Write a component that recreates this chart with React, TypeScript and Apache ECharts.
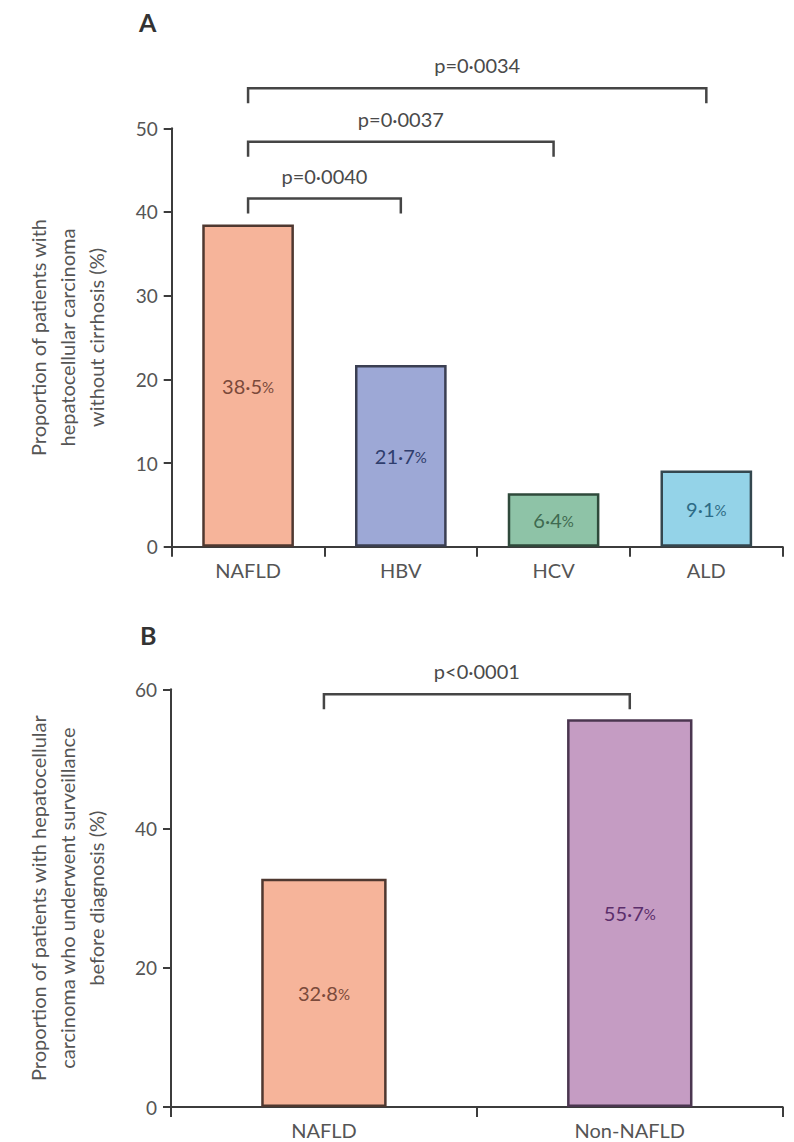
import React, { useEffect, useRef } from "react";
import * as echarts from "echarts";

// ---- Panel A data ----
const categoriesA = ["NAFLD", "HBV", "HCV", "ALD"];
const valuesA = [38.5, 21.7, 6.4, 9.1];
const yTicksA = { min: 0, max: 50, interval: 10 };
const bracketFromA = [0, 0, 0];
const bracketToA = [1, 2, 3];
const bracketLevelA = [41.6, 48.4, 54.8];
const pLabelsA = ["p=0·0040", "p=0·0037", "p=0·0034"];

// ---- Panel B data ----
const categoriesB = ["NAFLD", "Non-NAFLD"];
const valuesB = [32.8, 55.7];
const yTicksB = { min: 0, max: 60, interval: 20 };
const bracketFromB = [0];
const bracketToB = [1];
const bracketLevelB = [59.3];
const pLabelsB = ["p<0·0001"];

// ---- Styles ----
const FONT = "Lato, 'Open Sans', sans-serif";
const fillsA = ["#F6B49A", "#9DA8D6", "#8EC3A7", "#94D3E8"];
const bordersA = ["#4f3830", "#3b3f52", "#2f4a3b", "#34474f"];
const labelColorsA = ["#7b4a3b", "#2f3d6d", "#3f6a50", "#2d6b86"];
const fillsB = ["#F6B49A", "#C59CC3"];
const bordersB = ["#4f3830", "#4b3650"];
const labelColorsB = ["#7b4a3b", "#5b2e6b"];
const AXIS = "#3c3c3c";
const TEXT = "#555555";

const fmt = (v: number) => v.toFixed(1).replace(".", "·");

function barSeries(values: number[], fills: string[], borders: string[], lblColors: string[], idx: number, width: string) {
  return {
    type: "bar",
    xAxisIndex: idx,
    yAxisIndex: idx,
    barWidth: width,
    data: values.map((v, i) => ({
      value: v,
      itemStyle: { color: fills[i], borderColor: borders[i], borderWidth: 2.5 },
      label: {
        color: lblColors[i],
        rich: {
          n: { fontSize: 20, color: lblColors[i], fontFamily: FONT },
          p: { fontSize: 15, color: lblColors[i], fontFamily: FONT, padding: [2, 0, 0, 0] },
        },
      },
    })),
    label: {
      show: true,
      position: "inside",
      fontFamily: FONT,
      formatter: (p: any) => `{n|${fmt(p.value)}}{p|%}`,
    },
  };
}

function bracketSeries(from: number[], to: number[], level: number[], labels: string[], idx: number) {
  return {
    type: "custom",
    xAxisIndex: idx,
    yAxisIndex: idx,
    clip: false,
    silent: true,
    encode: { x: [0, 1], y: 2 },
    data: from.map((f, i) => [f, to[i], level[i]]),
    renderItem: (params: any, api: any) => {
      const a = api.value(0);
      const b = api.value(1);
      const l = api.value(2);
      const p1 = api.coord([a, l]);
      const p2 = api.coord([b, l]);
      const drop = 15;
      return {
        type: "group",
        children: [
          {
            type: "polyline",
            shape: {
              points: [
                [p1[0], p1[1] + drop],
                [p1[0], p1[1]],
                [p2[0], p2[1]],
                [p2[0], p2[1] + drop],
              ],
            },
            style: { stroke: "#454545", lineWidth: 2.5, fill: null },
          },
          {
            type: "text",
            x: (p1[0] + p2[0]) / 2,
            y: p1[1] - 23,
            style: {
              text: labels[params.dataIndex],
              align: "center",
              verticalAlign: "middle",
              fontSize: 20,
              fontFamily: FONT,
              fill: "#4a4a4a",
            },
          },
        ],
      };
    },
  };
}

function xAxisCfg(cats: string[], idx: number) {
  return {
    type: "category",
    gridIndex: idx,
    data: cats,
    boundaryGap: true,
    axisLine: { show: true, lineStyle: { color: AXIS, width: 2 } },
    axisTick: { show: true, length: 10, alignWithLabel: false, lineStyle: { color: AXIS, width: 2 } },
    axisLabel: { color: TEXT, fontSize: 20, fontFamily: FONT, margin: 13 },
    splitLine: { show: false },
  };
}

function yAxisCfg(t: { min: number; max: number; interval: number }, name: string, idx: number) {
  return {
    type: "value",
    gridIndex: idx,
    min: t.min,
    max: t.max,
    interval: t.interval,
    name,
    nameLocation: "middle",
    nameRotate: 90,
    nameGap: 61,
    nameTextStyle: { color: TEXT, fontSize: 20, fontFamily: FONT, lineHeight: 29 },
    axisLine: { show: true, lineStyle: { color: AXIS, width: 2 } },
    axisTick: { show: true, length: 8, lineStyle: { color: AXIS, width: 2 } },
    axisLabel: { color: TEXT, fontSize: 19, fontFamily: FONT, margin: 14 },
    splitLine: { show: false },
  };
}

export default function App() {
  const ref = useRef<HTMLDivElement>(null);
  useEffect(() => {
    if (!ref.current) return;
    const chart = echarts.init(ref.current, undefined, { renderer: "svg" });
    chart.setOption({
      animation: false,
      backgroundColor: "#ffffff",
      title: [
        { text: "A", left: 139, top: 9, padding: 0, textStyle: { fontSize: 25, fontWeight: "bold", color: "#333", fontFamily: FONT } },
        { text: "B", left: 140, top: 622, padding: 0, textStyle: { fontSize: 25, fontWeight: "bold", color: "#333", fontFamily: FONT } },
      ],
      grid: [
        { left: 171.7, right: 11.3, top: 128.3, height: 418.4 },
        { left: 171, right: 11.3, top: 689.3, height: 417.7 },
      ],
      xAxis: [xAxisCfg(categoriesA, 0), xAxisCfg(categoriesB, 1)],
      yAxis: [
        yAxisCfg(yTicksA, "Proportion of patients with\nhepatocellular carcinoma\nwithout cirrhosis (%)", 0),
        yAxisCfg(yTicksB, "Proportion of patients with hepatocellular\ncarcinoma who underwent surveillance\nbefore diagnosis (%)", 1),
      ],
      series: [
        barSeries(valuesA, fillsA, bordersA, labelColorsA, 0, "60%"),
        barSeries(valuesB, fillsB, bordersB, labelColorsB, 1, "41%"),
        bracketSeries(bracketFromA, bracketToA, bracketLevelA, pLabelsA, 0),
        bracketSeries(bracketFromB, bracketToB, bracketLevelB, pLabelsB, 1),
      ],
    });
    return () => chart.dispose();
  }, []);
  return (
    <div
      ref={ref}
      style={{ position: "fixed", left: 0, top: 0, width: 794, height: 1142, background: "#fff" }}
    />
  );
}
